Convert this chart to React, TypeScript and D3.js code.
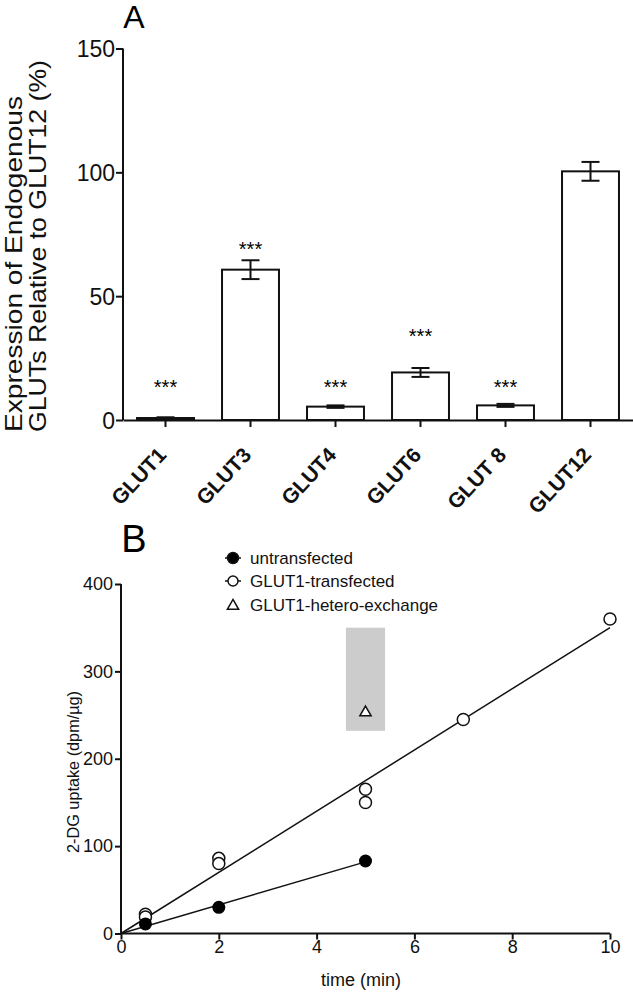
import React, { useEffect, useRef } from "react";
import * as d3 from "d3";

// ---------- Panel A data ----------
const categories = ["GLUT1", "GLUT3", "GLUT4", "GLUT6", "GLUT 8", "GLUT12"];
const expression = [0.8, 60.7, 5.4, 19.2, 5.9, 100.4];
const expressionErr = [0.3, 3.8, 0.5, 1.8, 0.6, 3.8];
const significance = ["***", "***", "***", "***", "***", ""];
const starLevels = [15, 70.6, 15, 35.5, 15, 0];
const yTicksA = [0, 50, 100, 150];
const yLabelA = ["Expression of Endogenous", "GLUTs Relative to GLUT12 (%)"];

// ---------- Panel B data ----------
const untransTime = [0.5, 2, 5];
const untransUptake = [11, 30, 83];
const transTime = [0.5, 0.5, 2, 2, 5, 5, 7, 10];
const transUptake = [22, 19, 86, 80, 165, 150, 245, 360];
const heteroTime = [5];
const heteroUptake = [254];
const heteroTimeRange = [4.6, 5.4];
const heteroUptakeRange = [232, 350];
const untransFitTime = [0, 5];
const untransFitUptake = [0, 82];
const transFitTime = [0, 10];
const transFitUptake = [0, 350];
const xTicksB = [0, 2, 4, 6, 8, 10];
const yTicksB = [0, 100, 200, 300, 400];
const legendLabels = ["untransfected", "GLUT1-transfected", "GLUT1-hetero-exchange"];

const FONT = "'Liberation Sans', Arial, Helvetica, sans-serif";

export default function App() {
  const ref = useRef<SVGSVGElement>(null);

  useEffect(() => {
    const svg = d3.select(ref.current);
    svg.selectAll("*").remove();
    svg.attr("font-family", FONT);

    // ================= Panel A =================
    const gA = svg.append("g");
    const x = d3
      .scaleBand<string>()
      .domain(categories)
      .range([123, 633])
      .paddingInner(0.33)
      .paddingOuter(0.165);
    const y = d3.scaleLinear().domain([0, 150]).range([420, 48.5]);

    gA.append("text")
      .attr("x", 134)
      .attr("y", 28)
      .attr("text-anchor", "middle")
      .attr("font-size", 32)
      .text("A");

    categories.forEach((c, i) => {
      const bx = x(c)!;
      const bw = x.bandwidth();
      gA.append("rect")
        .attr("x", bx)
        .attr("y", y(expression[i]))
        .attr("width", bw)
        .attr("height", y(0) - y(expression[i]))
        .attr("fill", "#fff")
        .attr("stroke", "#111")
        .attr("stroke-width", 2);
      const cx = bx + bw / 2;
      const top = y(expression[i] + expressionErr[i]);
      const bot = y(expression[i] - expressionErr[i]);
      gA.append("line")
        .attr("x1", cx).attr("x2", cx).attr("y1", top).attr("y2", bot)
        .attr("stroke", "#111").attr("stroke-width", 2);
      [top, bot].forEach((yy) =>
        gA.append("line")
          .attr("x1", cx - 9).attr("x2", cx + 9).attr("y1", yy).attr("y2", yy)
          .attr("stroke", "#111").attr("stroke-width", 2)
      );
      if (significance[i]) {
        gA.append("text")
          .attr("x", cx)
          .attr("y", y(starLevels[i]) + 11)
          .attr("text-anchor", "middle")
          .attr("font-size", 20)
          .text(significance[i]);
      }
    });

    const yAxisA = gA.append("g").attr("transform", "translate(123,0)")
      .call(d3.axisLeft(y).tickValues(yTicksA).tickSize(7).tickPadding(1));
    yAxisA.select(".domain").attr("stroke", "#111").attr("stroke-width", 2).attr("d", `M0,${y(150)}V${y(0)}`);
    yAxisA.selectAll(".tick line").attr("stroke", "#111").attr("stroke-width", 2);
    yAxisA.selectAll(".tick text").attr("font-size", 23).attr("font-family", FONT).attr("fill", "#111").attr("dy", "0.36em");

    const xAxisA = gA.append("g").attr("transform", "translate(0,420)")
      .call(d3.axisBottom(x).tickSize(7).tickSizeOuter(0));
    xAxisA.select(".domain").attr("stroke", "#111").attr("stroke-width", 2);
    xAxisA.selectAll(".tick line").attr("stroke", "#111").attr("stroke-width", 2);
    xAxisA.selectAll(".tick text")
      .attr("font-size", 21)
      .attr("font-weight", "bold")
      .attr("font-family", FONT)
      .attr("fill", "#111")
      .attr("text-anchor", "end")
      .attr("x", 0)
      .attr("y", 0)
      .attr("dy", 0)
      .attr("transform", "translate(2,36) rotate(-47)");

    const yLabLen = [336, 372];
    yLabelA.forEach((t, i) => {
      gA.append("text")
        .attr("transform", `translate(${22 + i * 24},432) rotate(-90)`)
        .attr("text-anchor", "start")
        .attr("font-size", 24)
        .attr("fill", "#111")
        .attr("textLength", yLabLen[i])
        .attr("lengthAdjust", "spacingAndGlyphs")
        .text(t);
    });

    // ================= Panel B =================
    const gB = svg.append("g");
    const xb = d3.scaleLinear().domain([0, 10]).range([121, 610]);
    const yb = d3.scaleLinear().domain([0, 400]).range([933.5, 584]);

    gB.append("text")
      .attr("x", 134)
      .attr("y", 552)
      .attr("text-anchor", "middle")
      .attr("font-size", 38)
      .text("B");

    gB.append("rect")
      .attr("x", xb(heteroTimeRange[0]))
      .attr("y", yb(heteroUptakeRange[1]))
      .attr("width", xb(heteroTimeRange[1]) - xb(heteroTimeRange[0]))
      .attr("height", yb(heteroUptakeRange[0]) - yb(heteroUptakeRange[1]))
      .attr("fill", "#cccccc");

    const line = d3.line<[number, number]>().x((d) => xb(d[0])).y((d) => yb(d[1]));
    gB.append("path")
      .attr("d", line(untransFitTime.map((t, i) => [t, untransFitUptake[i]]))!)
      .attr("fill", "none").attr("stroke", "#111").attr("stroke-width", 1.5);
    gB.append("path")
      .attr("d", line(transFitTime.map((t, i) => [t, transFitUptake[i]]))!)
      .attr("fill", "none").attr("stroke", "#111").attr("stroke-width", 1.5);

    transTime.forEach((t, i) => {
      gB.append("circle").attr("cx", xb(t)).attr("cy", yb(transUptake[i])).attr("r", 6)
        .attr("fill", "#fff").attr("stroke", "#111").attr("stroke-width", 1.5);
    });
    untransTime.forEach((t, i) => {
      gB.append("circle").attr("cx", xb(t)).attr("cy", yb(untransUptake[i])).attr("r", 6.5)
        .attr("fill", "#000");
    });
    const tri = d3.symbol().type(d3.symbolTriangle).size(55);
    heteroTime.forEach((t, i) => {
      gB.append("path").attr("d", tri()!)
        .attr("transform", `translate(${xb(t)},${yb(heteroUptake[i]) + 1})`)
        .attr("fill", "#fff").attr("stroke", "#111").attr("stroke-width", 1.5);
    });

    const yAxisB = gB.append("g").attr("transform", "translate(121,0)")
      .call(d3.axisLeft(yb).tickValues(yTicksB).tickSize(6).tickPadding(2));
    yAxisB.select(".domain").attr("stroke", "#111").attr("stroke-width", 2).attr("d", `M0,${yb(400)}V${yb(0)}`);
    yAxisB.selectAll(".tick line").attr("stroke", "#111").attr("stroke-width", 2);
    yAxisB.selectAll(".tick text").attr("font-size", 18).attr("font-family", FONT).attr("fill", "#111");

    const xAxisB = gB.append("g").attr("transform", `translate(0,${yb(0)})`)
      .call(d3.axisBottom(xb).tickValues(xTicksB).tickSize(6).tickPadding(1));
    xAxisB.select(".domain").attr("stroke", "#111").attr("stroke-width", 2).attr("d", `M${xb(0)},0H${xb(10)}`);
    xAxisB.selectAll(".tick line").attr("stroke", "#111").attr("stroke-width", 2);
    xAxisB.selectAll(".tick text").attr("font-size", 18).attr("font-family", FONT).attr("fill", "#111");

    gB.append("text")
      .attr("x", 361).attr("y", 986)
      .attr("text-anchor", "middle").attr("font-size", 18).attr("fill", "#111")
      .text("time (min)");
    gB.append("text")
      .attr("transform", `translate(79,772) rotate(-90)`)
      .attr("text-anchor", "middle").attr("font-size", 17).attr("fill", "#111")
      .attr("textLength", 162).attr("lengthAdjust", "spacingAndGlyphs")
      .text("2-DG uptake (dpm/µg)");

    const legY = [558, 581, 605];
    legendLabels.forEach((lab, i) => {
      const ly = legY[i];
      const mx = 233;
      if (i < 2) {
        gB.append("line").attr("x1", mx - 8).attr("x2", mx + 8).attr("y1", ly).attr("y2", ly)
          .attr("stroke", "#111").attr("stroke-width", 1.5);
        gB.append("circle").attr("cx", mx).attr("cy", ly).attr("r", i === 0 ? 5.5 : 5)
          .attr("fill", i === 0 ? "#000" : "#fff").attr("stroke", "#111").attr("stroke-width", 1.5);
      } else {
        gB.append("path").attr("d", tri()!).attr("transform", `translate(${mx},${ly + 1})`)
          .attr("fill", "#fff").attr("stroke", "#111").attr("stroke-width", 1.5);
      }
      gB.append("text").attr("x", 250).attr("y", ly + 6).attr("font-size", 17).attr("fill", "#111").text(lab);
    });
  }, []);

  return (
    <svg
      ref={ref}
      width={633}
      height={994}
      style={{ position: "absolute", left: 0, top: 0, background: "#fff" }}
    />
  );
}
